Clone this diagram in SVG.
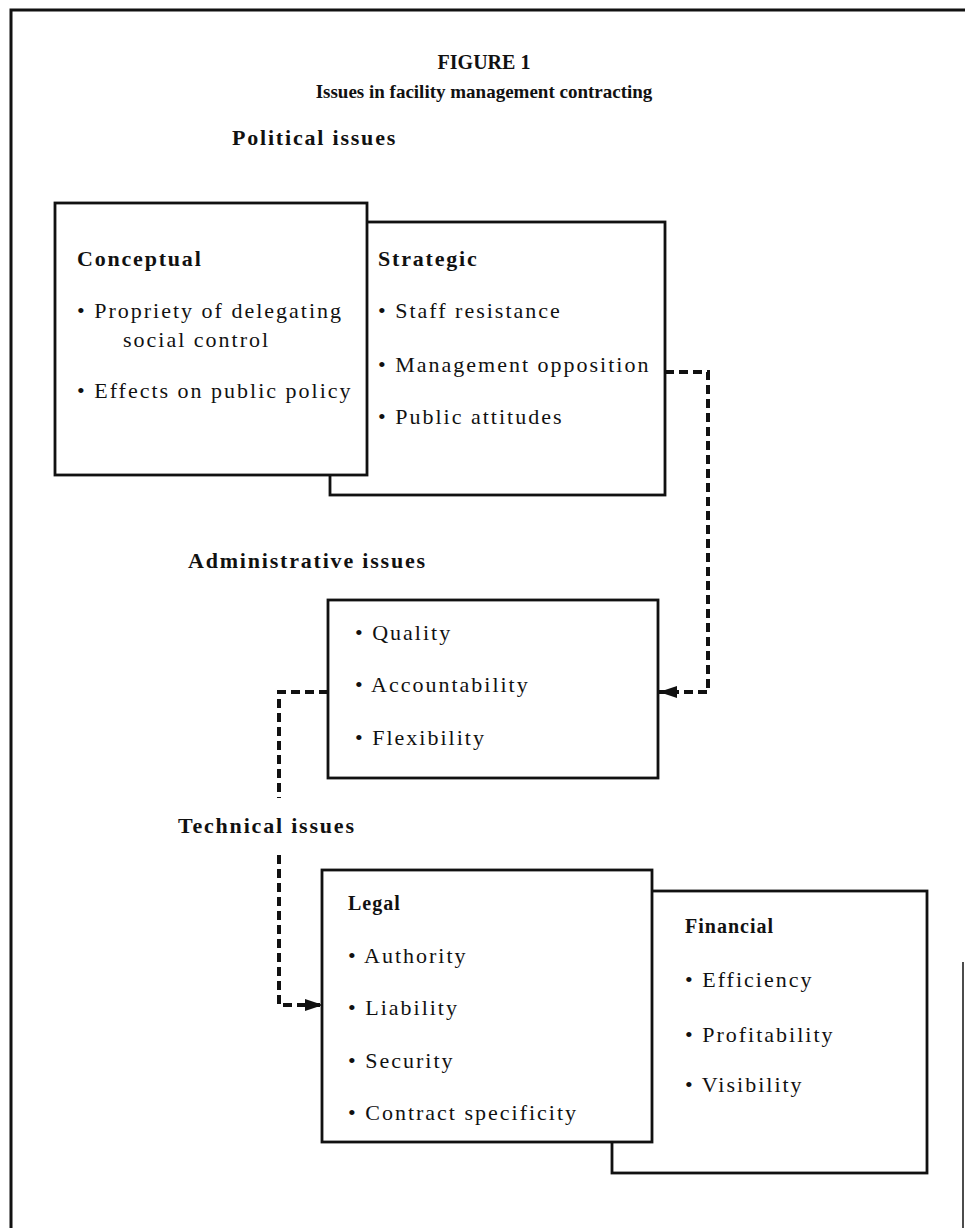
<svg xmlns="http://www.w3.org/2000/svg" width="965" height="1228" viewBox="0 0 965 1228">
<style>
.box{fill:#fff;stroke:#111;stroke-width:2.8}
.t{font-family:"Liberation Serif","Times New Roman",serif;font-size:22px;letter-spacing:2px;fill:#111}
.h{font-family:"Liberation Serif","Times New Roman",serif;font-size:22px;font-weight:bold;letter-spacing:1.8px;fill:#111}
.hs{font-family:"Liberation Serif","Times New Roman",serif;font-size:20px;font-weight:bold;letter-spacing:1px;fill:#111}
.ti{font-family:"Liberation Serif","Times New Roman",serif;font-size:20px;font-weight:bold;fill:#111;text-anchor:middle}
.conn{fill:none;stroke:#111;stroke-width:4;stroke-dasharray:9 5}
</style>
<defs>
<marker id="arr" markerUnits="userSpaceOnUse" markerWidth="18" markerHeight="12" refX="18" refY="6" orient="auto">
<path d="M0,0 L18,6 L0,12 z" fill="#111"/>
</marker>
</defs>
<rect width="965" height="1228" fill="#fff"/>
<g id="frame" fill="none" stroke="#111">
<path d="M11,1228 V10 H965" stroke-width="3"/>
<path d="M963,962 V1228" stroke-width="1.5"/>
</g>
<g id="title">
<text class="ti" x="484" y="69">FIGURE 1</text>
<text class="ti" x="484" y="98" style="font-size:19px">Issues in facility management contracting</text>
</g>
<g id="political-label"><text class="h" x="232" y="145">Political issues</text></g>
<g id="strategic">
<rect class="box" x="330" y="222" width="335" height="273"/>
<text class="h" x="378" y="266">Strategic</text>
<text class="t" x="378" y="318">• Staff resistance</text>
<text class="t" x="378" y="372">• Management opposition</text>
<text class="t" x="378" y="424">• Public attitudes</text>
</g>
<g id="conceptual">
<rect class="box" x="55" y="203" width="312" height="272" stroke-width="3.2"/>
<text class="h" x="77" y="266">Conceptual</text>
<text class="t" x="77" y="318">• Propriety of delegating</text>
<text class="t" x="123" y="347">social control</text>
<text class="t" x="77" y="398">• Effects on public policy</text>
</g>
<g id="administrative-label"><text class="h" x="188" y="568">Administrative issues</text></g>
<g id="administrative">
<rect class="box" x="328" y="600" width="330" height="178"/>
<text class="t" x="355" y="640">• Quality</text>
<text class="t" x="355" y="692">• Accountability</text>
<text class="t" x="355" y="745">• Flexibility</text>
</g>
<g id="technical-label"><text class="h" x="178" y="833">Technical issues</text></g>
<g id="financial">
<rect class="box" x="612" y="891" width="315" height="282"/>
<text class="hs" x="685" y="933">Financial</text>
<text class="t" x="685" y="987">• Efficiency</text>
<text class="t" x="685" y="1042">• Profitability</text>
<text class="t" x="685" y="1092">• Visibility</text>
</g>
<g id="legal">
<rect class="box" x="322" y="870" width="330" height="272"/>
<text class="hs" x="348" y="910">Legal</text>
<text class="t" x="348" y="963">• Authority</text>
<text class="t" x="348" y="1015">• Liability</text>
<text class="t" x="348" y="1068">• Security</text>
<text class="t" x="348" y="1120">• Contract specificity</text>
</g>
<g id="connectors">
<path class="conn" d="M665,372 H708 V692 H659" marker-end="url(#arr)"/>
<path class="conn" d="M328,692 H279 V798"/>
<path class="conn" d="M279,855 V1005 H323" marker-end="url(#arr)"/>
</g>
</svg>
